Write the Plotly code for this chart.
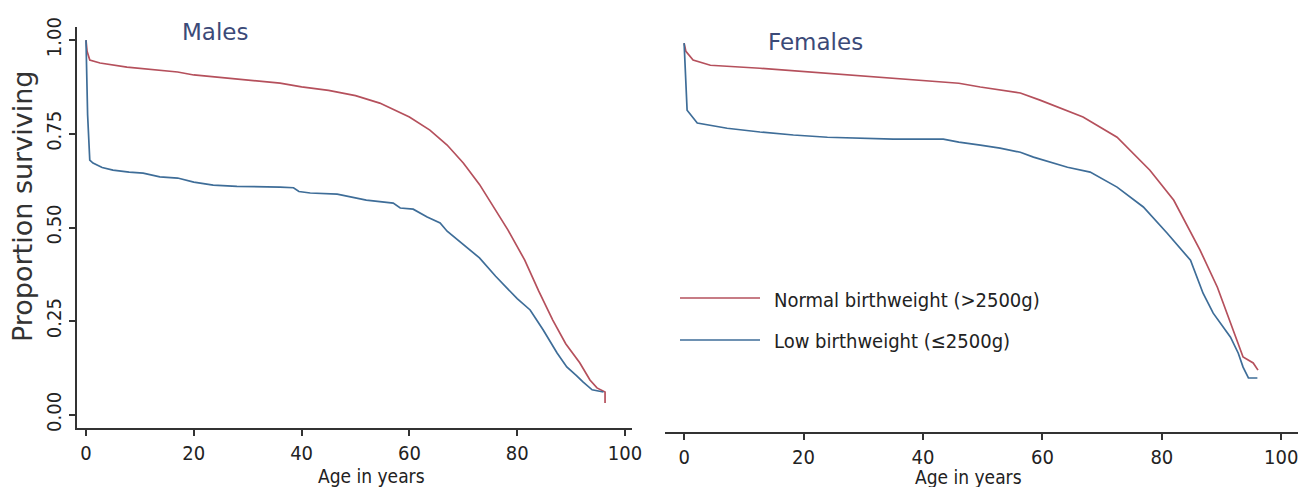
import plotly.graph_objects as go

# page body margin of the browser is 8px; the figure is sized to fill the rest of the window
OFF = 8
W, H = 1312 - OFF, 487 - OFF


def px(x):
    return (x - OFF) / W


def py(y):
    return 1 - (y - OFF) / H


# ---- data ----
male_normal_age = [0, 0.2, 0.7, 2.6, 7.6, 17, 20, 30, 36, 40, 45, 50, 54.5, 60, 63.8, 67, 70, 73, 76,
                   78.3, 81.4, 84, 86.6, 89, 91.6, 93.5, 94.8, 96.3, 96.3]
male_normal_surv = [1.0, 0.97, 0.947, 0.939, 0.928, 0.915, 0.907, 0.893, 0.885, 0.875, 0.866, 0.852, 0.832,
                    0.795, 0.76, 0.72, 0.672, 0.615, 0.547, 0.493, 0.413, 0.33, 0.253, 0.19, 0.139, 0.093,
                    0.072, 0.061, 0.032]

male_low_age = [0, 0.3, 0.7, 1.3, 3, 5, 8, 10.6, 13.7, 17, 20, 23.6, 28, 32, 36, 38.5, 39.5, 41.6, 46.6,
                52, 57, 58.3, 60.7, 63.3, 65.7, 67, 70, 73, 76, 78, 80, 82.4, 84.8, 87.4, 89.2, 91, 92.2,
                93.9, 95.7, 96]
male_low_surv = [1.0, 0.80, 0.68, 0.672, 0.66, 0.653, 0.648, 0.645, 0.635, 0.632, 0.621, 0.613, 0.61, 0.61,
                 0.608, 0.606, 0.596, 0.592, 0.589, 0.573, 0.565, 0.552, 0.549, 0.528, 0.512, 0.49, 0.455,
                 0.419, 0.37, 0.341, 0.31, 0.28, 0.227, 0.165, 0.128, 0.105, 0.088, 0.067, 0.061, 0.061]

female_normal_age = [0, 0.3, 1.5, 4.4, 12.7, 24, 35, 46, 49.6, 56.3, 59.6, 66.8, 72.5, 78, 82, 86.4, 89.3,
                     92, 93.6, 95.3, 96.1]
female_normal_surv = [0.992, 0.97, 0.947, 0.933, 0.925, 0.912, 0.899, 0.885, 0.875, 0.859, 0.84, 0.795,
                      0.741, 0.653, 0.573, 0.44, 0.341, 0.227, 0.155, 0.139, 0.12]

female_low_age = [0, 0.5, 2.2, 7.2, 12.7, 18.3, 24, 35, 43.4, 46, 49.6, 52.9, 56.3, 58.5, 64.2, 68, 72.5,
                  76.9, 80.9, 84.8, 86.9, 88.6, 91.5, 92.8, 93.6, 94.5, 96]
female_low_surv = [0.992, 0.813, 0.779, 0.765, 0.755, 0.747, 0.741, 0.736, 0.736, 0.728, 0.72, 0.712, 0.701,
                   0.688, 0.661, 0.648, 0.608, 0.555, 0.485, 0.413, 0.325, 0.272, 0.208, 0.165, 0.128,
                   0.099, 0.099]

x_ticks = [0, 20, 40, 60, 80, 100]
y_ticks = [0.0, 0.25, 0.5, 0.75, 1.0]
series_names = ["Normal birthweight (>2500g)", "Low birthweight (\u22642500g)"]

RED = "#b5505c"
BLUE = "#3e6d98"
AXIS = "#333333"
NARROW = "Liberation Sans Narrow, Arial Narrow, DejaVu Sans Condensed, Liberation Sans, sans-serif"
SANS = "DejaVu Sans, Liberation Sans, Arial, sans-serif"

fig = go.Figure()
fig.add_trace(go.Scatter(x=male_normal_age, y=male_normal_surv, mode="lines",
                         line=dict(color=RED, width=1.7), xaxis="x", yaxis="y", showlegend=False))
fig.add_trace(go.Scatter(x=male_low_age, y=male_low_surv, mode="lines",
                         line=dict(color=BLUE, width=1.7), xaxis="x", yaxis="y", showlegend=False))
fig.add_trace(go.Scatter(x=female_normal_age, y=female_normal_surv, mode="lines",
                         line=dict(color=RED, width=1.7), xaxis="x2", yaxis="y2", showlegend=False))
fig.add_trace(go.Scatter(x=female_low_age, y=female_low_surv, mode="lines",
                         line=dict(color=BLUE, width=1.7), xaxis="x2", yaxis="y2", showlegend=False))

xcommon = dict(tickvals=x_ticks, ticktext=[str(v) for v in x_ticks], ticks="outside", ticklen=6,
               tickwidth=1.5, tickcolor=AXIS, showline=True, linecolor=AXIS, linewidth=2,
               showgrid=False, zeroline=False, automargin=False,
               tickfont=dict(family=NARROW, size=20, color="#222"))

fig.update_layout(
    width=W, height=H,
    margin=dict(l=0, r=0, t=0, b=0, autoexpand=False),
    paper_bgcolor="white", plot_bgcolor="white",
    xaxis=dict(domain=[px(77), px(632)], range=[-1.67, 101.3], anchor="y", **xcommon),
    xaxis2=dict(domain=[px(665), px(1298)], range=[-3.2, 102.8], anchor="y2", **xcommon),
    yaxis=dict(domain=[py(428), py(27)], range=[-0.035, 1.035], anchor="x",
               tickvals=y_ticks, tickformat=".2f", ticks="outside", ticklen=6, tickwidth=1.5,
               tickcolor=AXIS, showline=True, linecolor=AXIS, linewidth=2, showgrid=False,
               zeroline=False, tickangle=-90, automargin=False,
               tickfont=dict(family=NARROW, size=20, color="#222")),
    yaxis2=dict(domain=[py(432), py(27)], range=[-0.045, 1.035], anchor="x2",
                showticklabels=False, showline=False, showgrid=False, zeroline=False, ticks="",
                automargin=False),
)

annotations = [
    dict(text="Males", x=px(215), y=py(32), font=dict(family=SANS, size=23, color="#3b4a78")),
    dict(text="Females", x=px(815), y=py(42), font=dict(family=SANS, size=23, color="#3b4a78")),
    dict(text="Proportion surviving", x=px(22), y=py(207), textangle=-90,
         font=dict(family=SANS, size=27, color="#333")),
    dict(text="Age in years", x=px(371), y=py(476), font=dict(family=NARROW, size=19, color="#222")),
    dict(text="Age in years", x=px(968), y=py(477), font=dict(family=NARROW, size=19, color="#222")),
    dict(text=series_names[0], x=px(772), y=py(300), xanchor="left",
         font=dict(family=NARROW, size=20, color="#222")),
    dict(text=series_names[1], x=px(772), y=py(341), xanchor="left",
         font=dict(family=NARROW, size=20, color="#222")),
]
for a in annotations:
    a.setdefault("xanchor", "center")
    fig.add_annotation(xref="paper", yref="paper", yanchor="middle", showarrow=False, **a)

fig.add_shape(type="line", xref="paper", yref="paper", x0=px(680), x1=px(760),
              y0=py(298), y1=py(298), line=dict(color=RED, width=1.7))
fig.add_shape(type="line", xref="paper", yref="paper", x0=px(680), x1=px(760),
              y0=py(340), y1=py(340), line=dict(color=BLUE, width=1.7))

fig.write_html("out.html")
